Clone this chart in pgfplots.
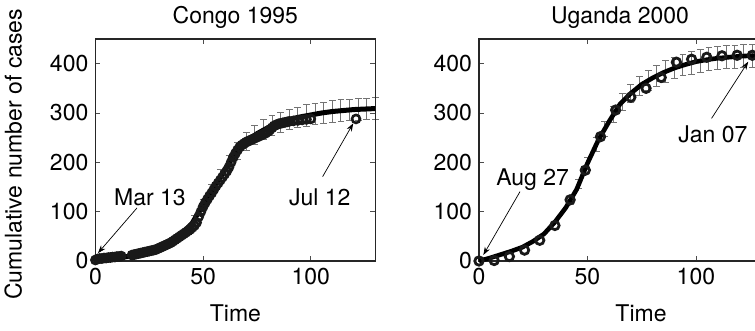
\documentclass[border=0pt]{standalone}
\usepackage{fontspec}
\setmainfont{TeX Gyre Heros}
\usepackage{pgfplots}
\pgfplotsset{compat=1.18}
\usepackage{pgfplotstable}
\usetikzlibrary{arrows.meta}

% Congo 1995 data (daily cumulative cases)
\pgfplotstableread{
t y
0 2
1 4
2 5
3 5
4 6
5 6
6 7
7 7
8 8
9 8
10 9
11 9
12 10
17 12
18 13
19 14
20 15
21 16
22 17
23 18
24 19
25 20
26 21
27 22
28 23
29 25
30 27
31 29
32 31
33 33
34 35
35 37
36 40
37 43
38 46
39 49
40 52
41 55
42 58
43 61
44 64
45 68
46 72
47 78
48 90
49 100
50 110
51 118
52 125
53 132
54 138
55 145
56 152
57 158
58 164
59 170
60 176
61 182
62 190
63 200
64 210
65 218
66 225
67 231
68 235
69 238
70 241
71 243
72 245
73 247
74 249
75 251
76 253
77 255
78 257
79 259
80 262
81 266
82 270
83 274
84 276
85 278
86 279
87 280
88 281
89 282
90 283
92 284
94 285
96 286
98 287
100 288
121 288
}\congodata

\pgfplotstableread{
t y
0 2
5 4
10 6
15 9
20 12
25 18
30 25
35 38
40 55
45 77
50 115
55 150
60 185
65 218
70 242
75 258
80 270
85 280
90 287
95 292
100 296
105 300
110 303
115 305
120 307
125 308
130 309
}\congofit

\pgfplotstableread{
t y e
46 85 8
50 115 10
54 143 12
58 171 14
62 198 16
66 223 17
70 242 18
74 255 19
78 266 20
82 274 20
86 281 21
90 287 21
94 291 21
98 295 22
102 298 22
106 300 22
110 303 22
114 305 22
118 306 22
122 307 22
126 308 22
130 309 22
}\congoerr

% Uganda 2000 data (weekly cumulative cases)
\pgfplotstableread{
t y
0 0
7 1
14 9
21 22
28 42
35 72
42 124
49 184
56 252
63 306
70 332
77 350
84 372
91 403
98 409
105 413
112 416
119 417
126 417
}\ugandadata

\pgfplotstableread{
t y
0 0
5 6
10 13
15 20
20 28
25 40
30 55
35 79
40 108
45 145
50 198
55 245
60 283
65 318
70 340
75 358
80 371
85 382
90 391
95 398
100 404
105 408
110 411
115 413
120 415
125 416
130 417
}\ugandafit

\pgfplotstableread{
t y e
42 123 8
46 156 10
50 198 12
54 236 14
58 268 15
62 297 16
66 322 17
70 340 18
74 355 19
78 366 20
82 375 21
86 384 22
90 391 22
94 397 22
98 402 23
102 406 23
106 409 23
110 411 23
114 413 23
118 414 23
122 415 23
126 416 23
130 417 23
}\ugandaerr

\pgfplotsset{
  geom/.style={
    anchor=south west,
    scale only axis,
    height=111pt,
    xmin=0, xmax=130, ymin=0, ymax=450,
    clip=false,
  },
  panel/.style={
    geom,
    xtick={0,50,100}, ytick={0,100,200,300,400},
    tick pos=both, tick align=inside,
    major tick length=2.5pt,
    every tick/.style={black!70, line width=0.4pt},
    axis line style={black!85, line width=0.6pt},
    ticklabel style={font=\fontsize{11.5}{13.8}\selectfont},
    /pgf/number format/assume math mode=true,
    every axis title/.style={at={(0.5,1)}, anchor=base, yshift=7.9pt, font=\fontsize{11.5}{13.8}\selectfont},
    every axis x label/.style={at={(0.5,0)}, anchor=base, yshift=-30.3pt, font=\fontsize{11.5}{13.8}\selectfont},
  },
  errstyle/.style={draw=none, mark=none,
    error bars/.cd, y dir=both, y explicit,
    error bar style={draw=black!55, line width=0.5pt},
    error mark options={rotate=90, mark size=1.7pt, draw=black!55, line width=0.5pt}},
}

\begin{document}
\begin{tikzpicture}[font=\fontsize{11.5}{13.8}\selectfont]
\path[use as bounding box] (0,0) rectangle (377.5pt,165.5pt);
\clip (0,0) rectangle (377.5pt,165.5pt);

% ---------- Congo 1995: error bars (beneath) ----------
\begin{axis}[geom, hide axis, at={(47.7pt,35pt)}, width=140pt]
\addplot[errstyle] table[x=t, y=y, y error=e] {\congoerr};
\end{axis}
% ---------- Congo 1995: data and fit ----------
\begin{axis}[panel, at={(47.7pt,35pt)}, width=140pt,
  title={Congo 1995}, xlabel={Time}]
\addplot[black, line width=2.5pt, mark=none] table[x=t, y=y] {\congofit};
\addplot[only marks, mark=o, mark size=2pt, black!90, mark options={line width=1.3pt}] table[x=t, y=y] {\congodata};
\node[anchor=base] at (axis cs:25.3,111.6) {Mar 13};
\node[anchor=base] at (axis cs:104.2,111.6) {Jul 12};
\draw[-{Stealth[length=4pt,width=2.8pt]}, line width=0.35pt, black] (axis cs:19.3,107.5) -- (axis cs:1.2,16);
\draw[-{Stealth[length=4pt,width=2.8pt]}, line width=0.35pt, black] (axis cs:105.5,171) -- (axis cs:119.7,279);
\end{axis}

% ---------- Uganda 2000: error bars (beneath) ----------
\begin{axis}[geom, hide axis, at={(239.5pt,35pt)}, width=141pt]
\addplot[errstyle] table[x=t, y=y, y error=e] {\ugandaerr};
\end{axis}
% ---------- Uganda 2000: data and fit ----------
\begin{axis}[panel, at={(239.5pt,35pt)}, width=141pt,
  title={Uganda 2000}, xlabel={Time}, xlabel style={xshift=10.5pt}]
\addplot[black, line width=2.3pt, mark=none] table[x=t, y=y] {\ugandafit};
\addplot[only marks, mark=o, mark size=2.1pt, black!90, mark options={line width=1.4pt}] table[x=t, y=y] {\ugandadata};
\node[anchor=base] at (axis cs:24.7,154) {Aug 27};
\node[anchor=base] at (axis cs:107.8,240) {Jan 07};
\draw[-{Stealth[length=4pt,width=2.8pt]}, line width=0.35pt, black] (axis cs:18.9,140.6) -- (axis cs:2.0,12.2);
\draw[-{Stealth[length=4pt,width=2.8pt]}, line width=0.35pt, black] (axis cs:107.2,289) -- (axis cs:124.1,404);
\end{axis}

\node[rotate=90, anchor=base] at (10.8pt,88.3pt) {Cumulative number of cases};
\end{tikzpicture}
\end{document}
